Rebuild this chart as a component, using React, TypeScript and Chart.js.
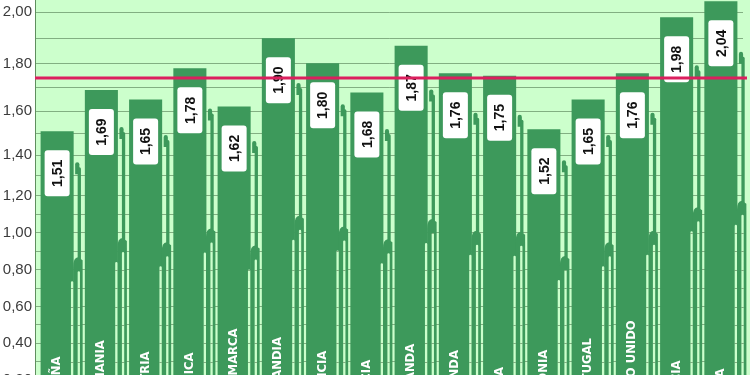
import React, { useEffect, useRef } from 'react';
import { Chart, registerables, LinearScale } from 'chart.js';

// ---- data ----
const CATEGORIES = [
  'ESPAÑA', 'ALEMANIA', 'AUSTRIA', 'BÉLGICA', 'DINAMARCA', 'FINLANDIA', 'FRANCIA', 'GRECIA',
  'HOLANDA', 'IRLANDA', 'ITALIA', 'POLONIA', 'PORTUGAL', 'REINO UNIDO', 'SUECIA', 'SUIZA',
];
const VALUES = [1.51, 1.69, 1.65, 1.78, 1.62, 1.90, 1.80, 1.68, 1.87, 1.76, 1.75, 1.52, 1.65, 1.76, 1.98, 2.04];
const REFERENCE_LINE = 1.74;
const Y_MIN = 0;
const Y_MAX = 2.045;
const Y_GRID_STEP = 0.1;
const Y_LABEL_STEP = 0.2;

// ---- style ----
const BAR_COLOR = '#3d995b';
const BG_COLOR = '#ccffcc';
const GRID_COLOR = 'rgba(70,110,70,0.55)';
const AXIS_COLOR = '#5f8f5f';
const LINE_COLOR = '#dc1f5e';
const SLIVER_RATIO = 0.905;
const STEP_RATIO = 0.575;

// axis warp reproducing the reference's stretched upper part
const WARP_KNEE = 1.1;
const WARP_K = 0.246;
const warp = (v: number) => v + (v > WARP_KNEE ? WARP_K * (v - WARP_KNEE) ** 2 : 0);
const unwarp = (w: number) => {
  if (w <= WARP_KNEE) return w;
  const d = (-1 + Math.sqrt(1 + 4 * WARP_K * (w - WARP_KNEE))) / (2 * WARP_K);
  return WARP_KNEE + d;
};

class WarpScale extends LinearScale {
  static id = 'warpLinear';
  static defaults = LinearScale.defaults;
  getPixelForValue(value: number) {
    if (value === null || value === undefined) return NaN;
    const lo = warp(this.min);
    const hi = warp(this.max);
    return this.getPixelForDecimal((warp(value) - lo) / (hi - lo));
  }
  getValueForPixel(pixel: number) {
    const lo = warp(this.min);
    const hi = warp(this.max);
    return unwarp(lo + this.getDecimalForPixel(pixel) * (hi - lo));
  }
}

Chart.register(...registerables, WarpScale);

const fmt = (v: number) => v.toFixed(2).replace('.', ',');

function roundTop(ctx: CanvasRenderingContext2D, x: number, y: number, w: number, h: number, r: number) {
  ctx.moveTo(x, y + h);
  ctx.lineTo(x, y + r);
  ctx.arcTo(x, y, x + r, y, r);
  ctx.lineTo(x + w - r, y);
  ctx.arcTo(x + w, y, x + w, y + r, r);
  ctx.lineTo(x + w, y + h);
  ctx.closePath();
}

const backgroundPlugin = {
  id: 'bgFill',
  beforeDraw(chart: any) {
    const { ctx, chartArea } = chart;
    ctx.save();
    ctx.fillStyle = BG_COLOR;
    ctx.fillRect(chartArea.left, chartArea.top, chart.width - chartArea.left, chartArea.bottom - chartArea.top);
    ctx.restore();
  },
};

const decorPlugin = {
  id: 'decor',
  afterDatasetsDraw(chart: any) {
    const { ctx, chartArea, scales } = chart;
    const yScale = scales.y;
    const meta = chart.getDatasetMeta(0);
    const bottom = chartArea.bottom;
    const stripes: { x: number; w: number; top: number }[] = [];

    ctx.save();
    ctx.fillStyle = BAR_COLOR;
    meta.data.forEach((el: any, i: number) => {
      const R = el.x + el.width / 2;
      const v = VALUES[i];
      const ys = yScale.getPixelForValue(v * SLIVER_RATIO);
      const yn = yScale.getPixelForValue(v * STEP_RATIO);
      // sliver with a small hump at its top
      ctx.beginPath();
      roundTop(ctx, R + 1.5, ys, 4.2, 12, 2.1);
      ctx.fill();
      ctx.beginPath();
      roundTop(ctx, R + 4, ys + 5, 3.3, bottom - ys - 5, 1.6);
      ctx.fill();
      // lower ghost block
      ctx.beginPath();
      ctx.moveTo(R - 0.5, bottom);
      ctx.lineTo(R - 0.5, yn + 10);
      ctx.quadraticCurveTo(R - 0.5, yn, R + 4.5, yn);
      ctx.lineTo(R + 9, yn + 3);
      ctx.lineTo(R + 9, bottom);
      ctx.closePath();
      ctx.fill();
      stripes.push({ x: R - 2.7, w: 2.3, top: yn + 24 });
      stripes.push({ x: R + 4, w: 2.3, top: yn + 14 });
    });

    // light stripes with grid lines showing through
    ctx.beginPath();
    stripes.forEach((s) => roundTop(ctx, s.x, s.top, s.w, bottom - s.top, s.w / 2));
    ctx.fillStyle = BG_COLOR;
    ctx.fill();
    ctx.clip();
    ctx.strokeStyle = GRID_COLOR;
    ctx.lineWidth = 1;
    ctx.beginPath();
    yScale.ticks.forEach((_t: any, idx: number) => {
      const p = Math.round(yScale.getPixelForTick(idx)) + 0.5;
      ctx.moveTo(chartArea.left, p);
      ctx.lineTo(chart.width, p);
    });
    ctx.stroke();
    ctx.restore();

    // category names (white, rotated, at the foot of each bar)
    ctx.save();
    ctx.fillStyle = '#ffffff';
    ctx.font = 'bold 11.6px "DejaVu Sans", "Liberation Sans", Arial, sans-serif';
    ctx.textAlign = 'left';
    ctx.textBaseline = 'middle';
    meta.data.forEach((el: any, i: number) => {
      ctx.save();
      ctx.translate(el.x, bottom - 9);
      ctx.rotate(-Math.PI / 2);
      ctx.fillText(CATEGORIES[i], 0, 0);
      ctx.restore();
    });
    ctx.restore();

    // value boxes
    ctx.save();
    meta.data.forEach((el: any, i: number) => {
      const bw = 25;
      const bh = 46;
      const top = el.y + 19;
      ctx.fillStyle = '#ffffff';
      ctx.beginPath();
      ctx.roundRect(el.x - bw / 2, top, bw, bh, 3);
      ctx.fill();
      ctx.save();
      ctx.translate(el.x, top + bh / 2);
      ctx.rotate(-Math.PI / 2);
      ctx.fillStyle = '#111111';
      ctx.font = 'bold 14px "Liberation Sans", Arial, sans-serif';
      ctx.textAlign = 'center';
      ctx.textBaseline = 'middle';
      ctx.fillText(fmt(VALUES[i]), 0, 1);
      ctx.restore();
    });
    ctx.restore();

    // reference line
    const ly = yScale.getPixelForValue(REFERENCE_LINE);
    ctx.save();
    ctx.strokeStyle = LINE_COLOR;
    ctx.lineWidth = 3;
    ctx.beginPath();
    ctx.moveTo(chartArea.left, ly);
    ctx.lineTo(chartArea.right + 4, ly);
    ctx.stroke();
    ctx.restore();
  },
};

export default function App() {
  const ref = useRef<HTMLCanvasElement>(null);
  useEffect(() => {
    if (!ref.current) return;
    const chart = new Chart(ref.current, {
      type: 'bar',
      data: {
        labels: CATEGORIES,
        datasets: [
          {
            data: VALUES,
            backgroundColor: BAR_COLOR,
            borderWidth: 0,
            barPercentage: 0.747,
            categoryPercentage: 1,
          },
        ],
      },
      options: {
        responsive: false,
        animation: false,
        events: [],
        devicePixelRatio: 1,
        layout: { padding: { top: 0, right: 7, bottom: 0, left: 0 } },
        plugins: { legend: { display: false }, tooltip: { enabled: false } },
        scales: {
          x: { display: false },
          y: {
            type: 'warpLinear' as any,
            min: Y_MIN,
            max: Y_MAX,
            border: { display: true, color: AXIS_COLOR, width: 1 },
            grid: { color: GRID_COLOR, lineWidth: 1, drawTicks: false },
            ticks: {
              stepSize: Y_GRID_STEP,
              includeBounds: false,
              autoSkip: false,
              padding: 3,
              color: '#3c3c3c',
              font: { size: 15, family: '"Liberation Sans", Arial, sans-serif' },
              callback: (v: any) => {
                const n = Number(v);
                const r = Math.round(n / Y_GRID_STEP);
                return r % Math.round(Y_LABEL_STEP / Y_GRID_STEP) === 0 ? fmt(n) : '';
              },
            },
            afterFit: (scale: any) => {
              scale.width = 35;
              scale.paddingTop = 0;
              scale.paddingBottom = 0;
            },
          },
        },
      },
      plugins: [backgroundPlugin, decorPlugin],
    } as any);
    return () => chart.destroy();
  }, []);
  return (
    <div
      style={{
        position: 'fixed',
        left: 0,
        top: 0,
        width: 750,
        height: 375,
        overflow: 'hidden',
        background: '#ffffff',
      }}
    >
      <canvas ref={ref} width={750} height={417} style={{ display: 'block' }} />
    </div>
  );
}
